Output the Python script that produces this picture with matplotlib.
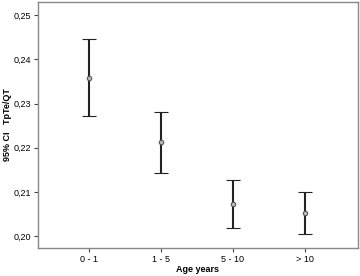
import numpy as np
import matplotlib
matplotlib.use('Agg')
import matplotlib.pyplot as plt
from matplotlib.ticker import FuncFormatter

plt.rcParams.update({'font.family': 'Liberation Sans', 'font.size': 6.5})

groups = ['0 - 1', '1 - 5', '5 - 10', '> 10']
means = [0.2359, 0.2213, 0.2072, 0.2052]
upper = [0.2446, 0.2281, 0.2127, 0.2100]
lower = [0.2271, 0.2143, 0.2018, 0.2004]

x = np.arange(len(groups))
means = np.array(means)
yerr = [means - np.array(lower), np.array(upper) - means]

fig = plt.figure(figsize=(3.6, 2.76), dpi=100)
ax = fig.add_axes([0.1056, 0.1014, 0.888, 0.8914])

ax.errorbar(x, means, yerr=yerr, fmt='o', color='#222222', ecolor='#222222',
            elinewidth=1.5, capsize=5, capthick=1.5,
            markersize=3.2, markerfacecolor='#bbbbbb', markeredgecolor='#555555',
            markeredgewidth=0.8)

ax.set_xlim(-0.71, 3.74)
ax.set_ylim(0.1973, 0.2530)
ax.set_xticks(x)
ax.set_xticklabels(groups)
ax.set_yticks([0.20, 0.21, 0.22, 0.23, 0.24, 0.25])
ax.yaxis.set_major_formatter(FuncFormatter(lambda v, p: f"{v:.2f}".replace('.', ',')))
ax.tick_params(direction='out', length=3, width=0.8, color='#444444', pad=2)

for s in ax.spines.values():
    s.set_color('#888888')
    s.set_linewidth(1.0)

ax.set_xlabel('Age years', fontweight='bold', va='center')
ax.xaxis.set_label_coords(0.5, -0.089)
ax.set_ylabel('95% CI   TpTe/QT', fontweight='bold', va='center')
ax.yaxis.set_label_coords(-0.094, 0.5)

fig.savefig('out.png', dpi=100)
